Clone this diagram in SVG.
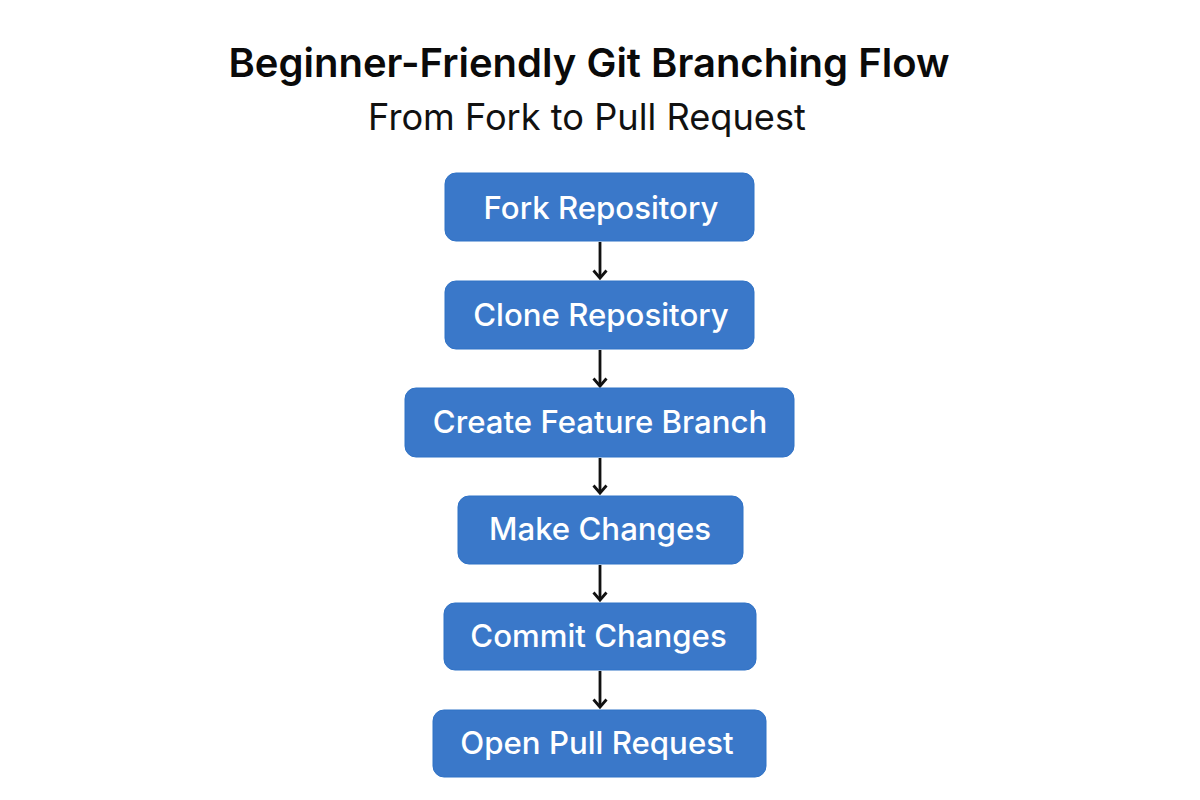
<svg xmlns="http://www.w3.org/2000/svg" width="1200" height="800" viewBox="0 0 1200 800">
<defs><marker id="arrow" markerUnits="userSpaceOnUse" markerWidth="20" markerHeight="18" refX="10" refY="9" orient="auto"><path d="M2.5 2.5 L10 9 L2.5 15.5" fill="none" stroke="#111" stroke-width="2.8"/></marker></defs>
<style>
.n{fill:#3a78c9;stroke:#2f72c6;stroke-width:1}
.l{font-family:Inter,"Liberation Sans",sans-serif;font-size:31.2px;font-weight:500;fill:#fff;text-anchor:middle}
.c{stroke:#111;stroke-width:2.8;fill:none;marker-end:url(#arrow)}
text{font-family:Inter,"Liberation Sans",sans-serif}
</style>
<rect width="1200" height="800" fill="#fff"/>
<text x="589" y="77" font-size="40" font-weight="600" text-anchor="middle" fill="#0a0a0a">Beginner-Friendly Git Branching Flow</text>
<text x="587" y="130" font-size="36.2" text-anchor="middle" fill="#111">From Fork to Pull Request</text>
<g id="connectors">
<path class="c" d="M600 242V278"/><path class="c" d="M600 350V386"/><path class="c" d="M600 458V493"/><path class="c" d="M600 565V600"/><path class="c" d="M600 671V707"/>
</g>
<g id="fork"><rect class="n" x="445" y="173" width="309" height="68" rx="11"/><text class="l" x="601" y="219">Fork Repository</text></g>
<g id="clone"><rect class="n" x="445" y="281" width="309" height="68" rx="11"/><text class="l" x="601" y="326">Clone Repository</text></g>
<g id="branch"><rect class="n" x="405" y="388" width="389" height="69" rx="11"/><text class="l" x="600" y="433">Create Feature Branch</text></g>
<g id="changes"><rect class="n" x="458" y="496" width="285" height="68" rx="11"/><text class="l" x="600" y="540">Make Changes</text></g>
<g id="commit"><rect class="n" x="444" y="603" width="312" height="67" rx="11"/><text class="l" x="598.5" y="647">Commit Changes</text></g>
<g id="pr"><rect class="n" x="433" y="710" width="333" height="67" rx="11"/><text class="l" x="597" y="754">Open Pull Request</text></g>
</svg>
